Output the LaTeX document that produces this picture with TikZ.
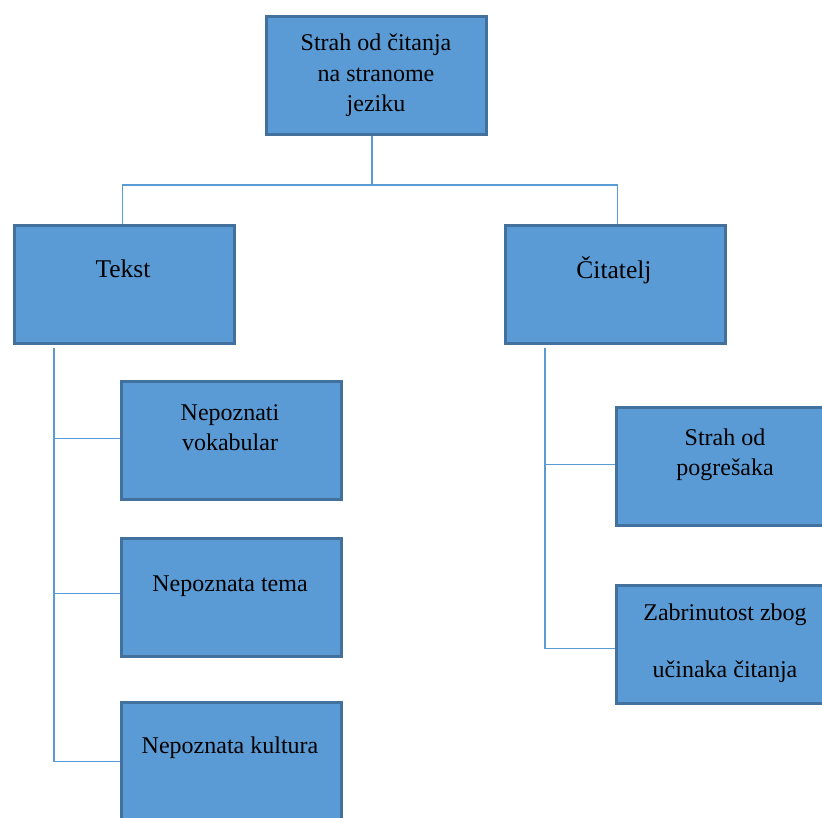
\documentclass[tikz,border=0pt]{standalone}
\usepackage{fontspec}
\usetikzlibrary{calc}
\setmainfont{Liberation Serif}
\definecolor{boxfill}{HTML}{5B9BD5}
\definecolor{boxline}{HTML}{41719C}
\definecolor{connline}{HTML}{5B9BD5}
\begin{document}
\begin{tikzpicture}[x=1pt,y=-1pt,
  box/.style={draw=boxline, fill=boxfill, line width=2.6pt, inner sep=0pt, anchor=north west, minimum width=220pt, minimum height=118pt},
  conn/.style={draw=connline, line width=1.2pt},
  lbl/.style={inner sep=0pt, anchor=base, font=\fontsize{24}{30}\selectfont, text=black},
  lblbig/.style={lbl, font=\fontsize{25.5}{30}\selectfont}]
\clip (0,0) rectangle (822,817);
\fill[white] (0,0) rectangle (822,817);
% boxes
\node[box] (top) at (265,15) {};
\node[box] (tekst) at (13,224) {};
\node[box] (citatelj) at (504,224) {};
\node[box] (vok) at (120,380) {};
\node[box] (tema) at (120,537) {};
\node[box] (kul) at (120,701) {};
\node[box] (strah) at (615,406) {};
\node[box] (zab) at (615,584) {};
% texts
\node[lbl] (t1a) at (376,50) {Strah od čitanja};
\node[lbl] (t1b) at (376,81) {na stranome};
\node[lbl] (t1c) at (376,111) {jeziku};
\node[lblbig] (t2) at (123,277) {Tekst};
\node[lblbig] (t3) at (614,278) {Čitatelj};
\node[lbl] (t4a) at (230,420) {Nepoznati};
\node[lbl] (t4b) at (230,450) {vokabular};
\node[lbl] (t5) at (230,591) {Nepoznata tema};
\node[lbl] (t6) at (230,753) {Nepoznata kultura};
\node[lbl] (t7a) at (725,445) {Strah od};
\node[lbl] (t7b) at (725,475) {pogrešaka};
\node[lbl] (t8a) at (725,620) {Zabrinutost zbog};
\node[lbl] (t8b) at (725,677) {učinaka čitanja};
% connectors
\coordinate (j) at (372,185);
\coordinate (ls) at (54,348);
\coordinate (rs) at (545,348);
\coordinate (vokin) at ($(vok.west)+(0,-2)$);
\coordinate (temain) at ($(tema.west)+(0,-4)$);
\coordinate (strahin) at ($(strah.west)+(0,-2)$);
\coordinate (zabin) at ($(zab.west)+(0,4)$);
\draw[conn] (top.south -| j) -- (j);
\draw[conn] (j) -| ($(tekst.north)+(-2,0)$);
\draw[conn] (j) -| ($(citatelj.north)+(2,0)$);
\draw[conn] (ls) |- (kul.west);
\draw[conn] (ls |- vokin) -- (vokin);
\draw[conn] (ls |- temain) -- (temain);
\draw[conn] (rs) |- (zabin);
\draw[conn] (rs |- strahin) -- (strahin);
\end{tikzpicture}
\end{document}
